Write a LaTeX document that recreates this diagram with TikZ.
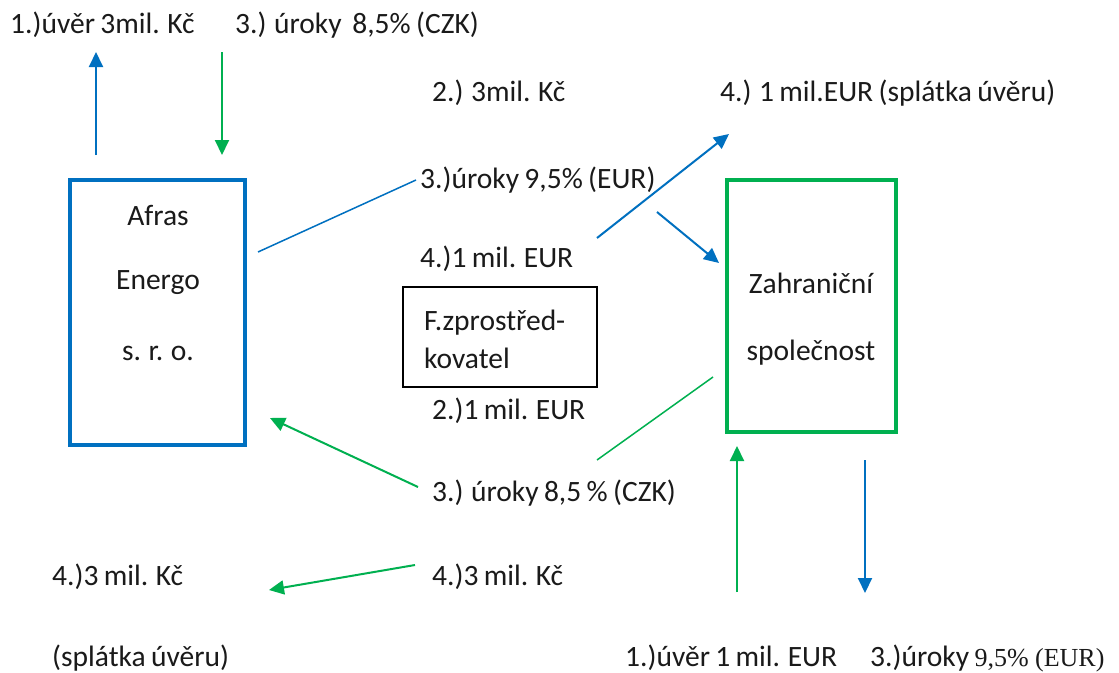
\documentclass[tikz,border=0pt]{standalone}
\usepackage{fontspec}
\setmainfont{Carlito}[WordSpace=0.8]
\newfontfamily\serifpart{Liberation Serif}
\usetikzlibrary{arrows.meta}
\definecolor{oblue}{HTML}{0070C0}
\definecolor{ogreen}{HTML}{00B050}
\definecolor{txt}{HTML}{1A1A1A}
\begin{document}
\begin{tikzpicture}[x=1pt,y=-1pt,
  lbl/.style={anchor=west,inner sep=0pt,text=txt,font=\fontsize{29.5}{35}\selectfont},
  ctr/.style={anchor=center,inner sep=0pt,text=txt,font=\fontsize{29.5}{35}\selectfont},
  tip/.style={-{Triangle[length=15pt,width=14pt]}},
  barrow/.style={tip,draw=oblue,line width=2pt},
  garrow/.style={tip,draw=ogreen,line width=2pt},
  bline/.style={draw=oblue,line width=1.5pt},
  gline/.style={draw=ogreen,line width=1.5pt},
  boxb/.style={draw=oblue,line width=3.5pt},
  boxg/.style={draw=ogreen,line width=3.5pt},
  boxk/.style={draw=black,line width=1.5pt}]
\useasboundingbox (0,0) rectangle (1119,672);
\fill[white] (0,0) rectangle (1119,672);

% boxes
\draw[boxb] (70,180) rectangle (245,445);
\node[ctr] (afras1) at (158,215) {Afras};
\node[ctr] (afras2) at (158,283) {Energo};
\node[ctr] (afras3) at (158,353) {s. r. o.};

\draw[boxg] (727,180) rectangle (896,432);
\node[ctr] (zahr1) at (811,283) {Zahraniční};
\node[ctr] (zahr2) at (811,353) {společnost};

\draw[boxk] (403,287) rectangle (597,387);
\node[lbl] (fz1) at (424,323) {F.zprostřed-};
\node[lbl] (fz2) at (424,358) {kovatel};

% labels
\node[lbl] (t1) at (10,25) {1.)úvěr 3mil. Kč};
\node[lbl] (t2) at (235,25) {3.) úroky\ \ 8,5\% (CZK)};
\node[lbl] (t3) at (432,93) {2.) 3mil. Kč};
\node[lbl] (t4) at (720,93) {4.) 1 mil.EUR (splátka úvěru)};
\node[lbl] (t5) at (420,180) {3.)úroky 9,5\% (EUR)};
\node[lbl] (t6) at (420,259) {4.)1 mil. EUR};
\node[lbl] (t7) at (432,411) {2.)1 mil. EUR};
\node[lbl] (t8) at (432,493) {3.) úroky 8,5 \% (CZK)};
\node[lbl] (t9) at (52,577) {4.)3 mil. Kč};
\node[lbl] (t10) at (432,577) {4.)3 mil. Kč};
\node[lbl] (t11) at (52,658) {(splátka úvěru)};
\node[lbl] (t12) at (625,658) {1.)úvěr 1 mil. EUR};
\node[lbl] (t13) at (870,658) {3.)úroky {\serifpart\fontsize{26}{30}\selectfont 9,5\% (EUR)}};

% connector end points
\coordinate (a1s) at (96,155);  \coordinate (a1e) at (96,52);
\coordinate (a2s) at (222,52);  \coordinate (a2e) at (222,155);
\coordinate (l1s) at (258,252); \coordinate (l1e) at (416,180);
\coordinate (a3s) at (597,238); \coordinate (a3e) at (729,134);
\coordinate (a4s) at (657,212); \coordinate (a4e) at (719,263);
\coordinate (l2s) at (713,377); \coordinate (l2e) at (597,460);
\coordinate (a5s) at (418,487); \coordinate (a5e) at (270,418);
\coordinate (a6s) at (415,565); \coordinate (a6e) at (269,590);
\coordinate (a7s) at (737,592); \coordinate (a7e) at (737,446);
\coordinate (a8s) at (865,460); \coordinate (a8e) at (865,593);

\draw[barrow] (a1s) -- (a1e);
\draw[garrow] (a2s) -- (a2e);
\draw[bline] (l1s) -- (l1e);
\draw[barrow] (a3s) -- (a3e);
\draw[barrow] (a4s) -- (a4e);
\draw[gline] (l2s) -- (l2e);
\draw[garrow] (a5s) -- (a5e);
\draw[garrow] (a6s) -- (a6e);
\draw[garrow] (a7s) -- (a7e);
\draw[barrow] (a8s) -- (a8e);
\end{tikzpicture}
\end{document}
